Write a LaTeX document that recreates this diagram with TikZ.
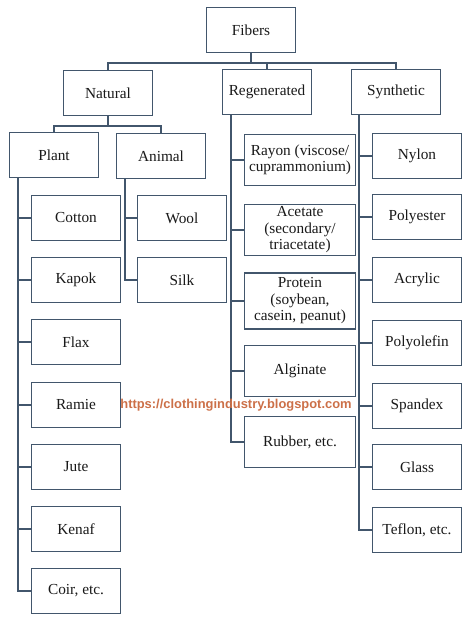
\documentclass[tikz,border=0pt]{standalone}
\usepackage{fontspec}
\setmainfont{Liberation Serif}
\setsansfont{Liberation Sans}
\usepackage{tikz}
\usepackage{xcolor}

\definecolor{linecol}{RGB}{66,86,108}
\definecolor{markcol}{RGB}{204,112,72}

\tikzset{
  box/.style={draw=linecol, line width=1.1pt, fill=white, align=center,
    minimum width=89pt, minimum height=45pt, inner sep=2pt,
    font=\fontsize{15.3}{16.5}\selectfont, text=black!90},
  regbox/.style={box, minimum width=111pt, minimum height=51pt},
  link/.style={draw=linecol, line width=1.1pt},
}

\begin{document}
\begin{tikzpicture}[x=1pt, y=-1pt]
  \useasboundingbox (0,0) rectangle (474,617);

  % top levels
  \node[box] (fibers) at (251,30) {Fibers};
  \node[box] (natural) at (108,93) {Natural};
  \node[box] (regenerated) at (267,92) {Regenerated};
  \node[box] (synthetic) at (396,92) {Synthetic};
  \node[box] (plant) at (54,155) {Plant};
  \node[box] (animal) at (161,156) {Animal};

  % plant fibers
  \node[box] (cotton) at (76,218) {Cotton};
  \node[box] (kapok) at (76,280) {Kapok};
  \node[box] (flax) at (76,342) {Flax};
  \node[box] (ramie) at (76,405) {Ramie};
  \node[box] (jute) at (76,467) {Jute};
  \node[box] (kenaf) at (76,529) {Kenaf};
  \node[box] (coir) at (76,591) {Coir, etc.};

  % animal fibers
  \node[box] (wool) at (182,218) {Wool};
  \node[box] (silk) at (182,280) {Silk};

  % regenerated fibers
  \node[regbox] (rayon) at (300,160) {Rayon (viscose/\\cuprammonium)};
  \node[regbox] (acetate) at (300,230) {Acetate\\(secondary/\\triacetate)};
  \node[regbox, minimum height=56pt] (protein) at (300,301) {Protein\\(soybean,\\casein, peanut)};
  \node[regbox] (alginate) at (300,371) {Alginate};
  \node[regbox] (rubber) at (300,442) {Rubber, etc.};

  % synthetic fibers
  \node[box] (nylon) at (417,156) {Nylon};
  \node[box] (polyester) at (417,217) {Polyester};
  \node[box] (acrylic) at (417,280) {Acrylic};
  \node[box] (polyolefin) at (417,343) {Polyolefin};
  \node[box] (spandex) at (417,406) {Spandex};
  \node[box] (glass) at (417,467) {Glass};
  \node[box] (teflon) at (417,530) {Teflon, etc.};

  % upper buses
  \draw[link] (fibers.south) -- ++(0,10) coordinate (bus);
  \draw[link] (natural.north) |- (bus) -| (synthetic.north);
  \draw[link] (regenerated.north) -- (regenerated.north |- bus);
  \draw[link] (natural.south) -- ++(0,10) coordinate (nbus);
  \draw[link] (plant.north) |- (nbus) -| (animal.north);

  % trunks
  \coordinate (ptrunk) at ([xshift=9pt]plant.south west);
  \coordinate (atrunk) at ([xshift=9pt]animal.south west);
  \coordinate (rtrunk) at ([xshift=9pt]regenerated.south west);
  \coordinate (strunk) at ([xshift=8pt]synthetic.south west);

  \draw[link] (ptrunk) |- (coir.west);
  \foreach \c in {cotton,kapok,flax,ramie,jute,kenaf}
    \draw[link] (\c.west) -- (\c.west -| ptrunk);

  \draw[link] (atrunk) |- (silk.west);
  \draw[link] (wool.west) -- (wool.west -| atrunk);

  \draw[link] (rtrunk) |- (rubber.west);
  \foreach \c in {rayon,acetate,protein,alginate}
    \draw[link] (\c.west) -- (\c.west -| rtrunk);

  \draw[link] (strunk) |- (teflon.west);
  \foreach \c in {nylon,polyester,acrylic,polyolefin,spandex,glass}
    \draw[link] (\c.west) -- (\c.west -| strunk);

  % watermark
  \node[font=\fontsize{12.9}{14}\sffamily\bfseries, text=markcol] (mark) at (236,405)
    {https://clothingindustry.blogspot.com};
\end{tikzpicture}
\end{document}
